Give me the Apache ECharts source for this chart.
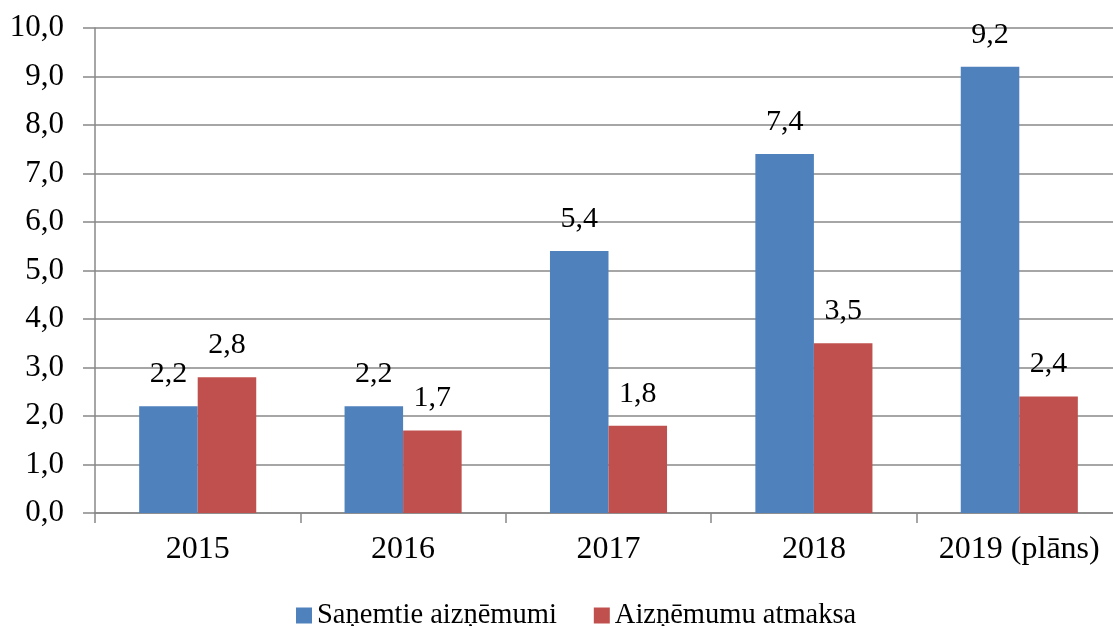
<!DOCTYPE html>
<html>
<head>
<meta charset="utf-8">
<script src="https://cdn.jsdelivr.net/npm/echarts@6/dist/echarts.min.js"></script>
<style>
  html, body { margin: 0; padding: 0; background: #fff; overflow: hidden; }
  #chart { width: 1130px; height: 626px; }
</style>
</head>
<body>
<div id="chart"></div>
<script>
  const years = ['2015', '2016', '2017', '2018', '2019 (plāns)']
  const received = [2.2, 2.2, 5.4, 7.4, 9.2]
  const repaid = [2.8, 1.7, 1.8, 3.5, 2.4]
  const seriesNames = ['Saņemtie aizņēmumi', 'Aizņēmumu atmaksa']

  const font = 'Liberation Serif'
  const comma = v => v.toFixed(1).replace('.', ',')

  // chart is a bit wider than the window: the plot runs past the right edge
  const chart = echarts.init(document.getElementById('chart'))

  const labelStyle = {
    show: true,
    position: 'top',
    distance: 17,
    fontFamily: font,
    fontSize: 30,
    color: '#000',
    formatter: p => comma(p.value)
  }

  chart.setOption({
    animation: false,
    textStyle: { fontFamily: font },
    grid: {
      left: 95,
      right: 8,
      top: 28,
      bottom: 113,
      containLabel: false
    },
    legend: {
      left: 291,
      top: 596,
      itemWidth: 16,
      itemHeight: 16,
      itemGap: 37,
      icon: 'rect',
      textStyle: { fontFamily: font, fontSize: 28.5, color: '#000' },
      data: seriesNames
    },
    xAxis: {
      type: 'category',
      data: years,
      axisLine: { lineStyle: { color: '#888', width: 1.5 } },
      axisTick: { show: true, interval: 0, length: 10, lineStyle: { color: '#888', width: 1.5 } },
      axisLabel: { interval: 0, fontFamily: font, fontSize: 32, color: '#000', margin: 21 }
    },
    yAxis: {
      type: 'value',
      min: 0,
      max: 10,
      interval: 1,
      axisLine: { show: true, lineStyle: { color: '#888', width: 1.5 } },
      axisTick: { show: true, length: 12, lineStyle: { color: '#888', width: 1.5 } },
      splitLine: { lineStyle: { color: '#888', width: 1.5 } },
      axisLabel: {
        fontFamily: font,
        fontSize: 31,
        color: '#000',
        margin: 31,
        formatter: v => comma(v)
      }
    },
    series: [
      {
        name: seriesNames[0],
        type: 'bar',
        data: received,
        barGap: '0%',
        barCategoryGap: '43%',
        itemStyle: { color: '#4F81BD' },
        label: labelStyle
      },
      {
        name: seriesNames[1],
        type: 'bar',
        data: repaid,
        itemStyle: { color: '#C0504D' },
        label: labelStyle
      }
    ]
  })
</script>
</body>
</html>
